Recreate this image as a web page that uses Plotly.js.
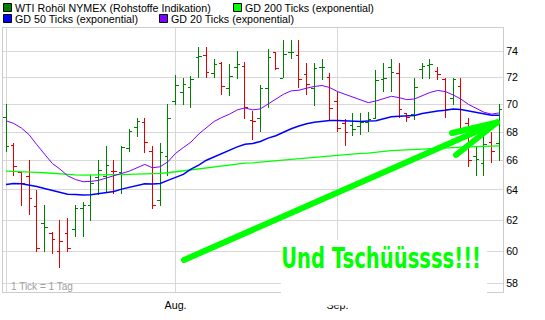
<!DOCTYPE html>
<html>
<head>
<meta charset="utf-8">
<script src="https://cdn.plot.ly/plotly-3.0.1.min.js"></script>
<style>html,body{margin:0;padding:0;background:#fff;}#chart{width:545px;height:320px;}</style>
</head>
<body>
<div id="chart"></div>
<script>
// Trading days (1 Tick = 1 Tag)
const days = [
 '2009-07-01','2009-07-02','2009-07-06','2009-07-07','2009-07-08','2009-07-09','2009-07-10',
 '2009-07-13','2009-07-14','2009-07-15','2009-07-16','2009-07-17',
 '2009-07-20','2009-07-21','2009-07-22','2009-07-23','2009-07-24',
 '2009-07-27','2009-07-28','2009-07-29','2009-07-30','2009-07-31',
 '2009-08-03','2009-08-04','2009-08-05','2009-08-06','2009-08-07',
 '2009-08-10','2009-08-11','2009-08-12','2009-08-13','2009-08-14',
 '2009-08-17','2009-08-18','2009-08-19','2009-08-20','2009-08-21',
 '2009-08-24','2009-08-25','2009-08-26','2009-08-27','2009-08-28','2009-08-31',
 '2009-09-01','2009-09-02','2009-09-03','2009-09-04',
 '2009-09-08','2009-09-09','2009-09-10','2009-09-11',
 '2009-09-14','2009-09-15','2009-09-16','2009-09-17','2009-09-18',
 '2009-09-21','2009-09-22','2009-09-23','2009-09-24','2009-09-25',
 '2009-09-28','2009-09-29','2009-09-30','2009-10-01'
];
const openP = [69.07,67.05,65.18,64.93,62.92,61.78,61.14,60.00,61.14,61.40,62.77,62.95,64.84,64.93,65.27,65.20,
 66.86,68.33,68.71,66.62,63.32,66.31,70.25,70.90,71.25,73.53,73.65,72.28,73.08,71.15,72.75,72.83,
 68.81,69.00,71.15,73.95,71.95,73.95,73.70,72.25,71.20,72.75,72.00,70.20,68.60,68.45,68.40,68.71,
 69.00,71.88,72.75,72.33,69.36,69.24,72.63,72.88,72.45,71.88,70.45,71.33,68.64,66.31,65.80,67.29,67.17];
const highP = [70.00,67.21,65.23,66.02,63.98,62.99,61.25,62.00,62.15,62.99,63.19,65.00,66.02,67.02,66.02,66.98,
 68.24,69.00,69.00,66.98,67.21,70.00,72.20,72.00,72.08,74.38,74.38,73.40,73.20,73.03,74.00,73.15,
 69.52,71.45,74.15,73.95,74.90,74.90,74.90,73.08,73.08,73.45,72.38,70.95,68.95,69.36,69.36,69.43,
 72.58,73.08,73.45,73.13,69.36,72.00,73.08,73.45,72.83,71.95,71.95,71.95,69.00,67.02,67.74,67.98,70.02];
const lowP = [66.62,64.95,62.92,62.33,59.96,59.96,59.84,58.98,59.96,60.92,60.92,61.96,63.65,63.87,63.74,63.70,
 66.62,67.62,66.50,62.70,62.95,64.95,69.95,69.95,69.76,71.95,71.95,71.95,70.70,70.65,71.90,68.95,
 67.45,67.98,69.76,72.58,71.95,73.45,71.20,70.70,69.88,71.83,68.76,68.00,66.98,67.69,67.81,67.98,
 68.95,70.95,70.95,69.00,68.69,68.88,71.88,71.88,71.78,69.00,69.95,68.21,65.57,64.95,64.95,65.86,65.98];
const closeP = [66.98,65.59,64.41,63.43,60.17,61.55,60.75,60.65,60.17,62.77,62.95,64.43,65.34,65.64,65.27,66.90,
 68.05,68.76,67.29,62.99,66.57,69.00,71.38,71.45,71.88,73.63,72.40,73.00,71.30,72.05,73.00,69.79,
 68.76,71.15,73.53,72.70,73.78,73.95,71.83,71.50,72.70,72.75,69.71,68.29,68.00,68.17,68.69,68.88,
 71.75,71.90,72.38,69.64,69.05,71.25,72.83,73.00,72.20,69.64,71.83,68.21,65.98,66.09,67.14,66.62,69.60];
// GD 200 / 50 / 20 Ticks (exponential)
const gd200 = [65.27,65.26,65.24,65.22,65.19,65.16,65.11,65.07,65.03,65.01,65.00,65.00,65.01,65.02,65.03,65.04,
 65.05,65.06,65.07,65.09,65.11,65.16,65.23,65.30,65.36,65.43,65.52,65.59,65.66,65.70,65.77,65.82,
 65.84,65.89,65.93,65.98,66.02,66.10,66.14,66.19,66.24,66.29,66.33,66.38,66.43,66.48,66.50,66.52,
 66.60,66.64,66.69,66.71,66.74,66.76,66.81,66.83,66.86,66.88,66.90,66.93,66.95,66.98,67.00,67.02,67.02];
const gd50 = [64.36,64.43,64.41,64.34,64.23,64.09,63.98,63.87,63.71,63.69,63.65,63.67,63.76,63.82,63.89,64.05,
 64.16,64.32,64.41,64.39,64.43,64.64,64.84,65.05,65.41,65.68,66.02,66.26,66.45,66.69,66.95,67.14,
 67.19,67.33,67.57,67.74,68.00,68.24,68.43,68.60,68.71,68.79,68.83,68.83,68.79,68.76,68.76,68.79,
 68.81,68.95,69.10,69.14,69.17,69.19,69.33,69.45,69.52,69.57,69.67,69.62,69.52,69.43,69.31,69.21,69.21];
const gd20 = [68.81,68.62,68.29,67.81,67.10,66.43,65.80,65.41,64.95,64.70,64.55,64.57,64.64,64.80,64.95,65.14,
 65.27,65.50,65.73,65.50,65.57,65.91,66.50,66.90,67.29,67.86,68.33,68.76,69.05,69.29,69.60,69.74,
 69.60,69.67,70.03,70.40,70.75,71.00,71.05,71.20,71.33,71.40,71.25,70.95,70.75,70.50,70.30,70.13,
 70.25,70.40,70.60,70.50,70.35,70.40,70.63,70.88,71.03,70.95,70.70,70.40,70.00,69.71,69.43,69.29,69.38];
const yTicks = [58,60,62,64,66,68,70,72,74];
const monthTicks = ['2009-07-01','2009-08-03','2009-09-01'];
const monthLabels = ['', 'Aug.', 'Sep.'];
const seriesNames = ['WTI Rohöl NYMEX (Rohstoffe Indikation)','GD 200 Ticks (exponential)','GD 50 Ticks (exponential)','GD 20 Ticks (exponential)'];
const slogan = 'Und Tschüüssss!!!';

const C_UP = '#008000', C_DN = '#e00000', C200 = '#00ff00', C50 = '#0000ff', C20 = '#8000ff';
const FONT = 'Liberation Sans, Arial, sans-serif';

const xIdx = days.map((d, i) => i);
const up = closeP.map((c, i) => i === 0 || c >= closeP[i - 1]);
function pick(arr, flag) { return arr.filter((v, i) => up[i] === flag); }
function ohlcTrace(flag, col) {
  return {
    type: 'ohlc', x: pick(xIdx, flag), open: pick(openP, flag), high: pick(highP, flag),
    low: pick(lowP, flag), close: pick(closeP, flag), tickwidth: 0.4,
    increasing: {line: {color: col, width: 1}}, decreasing: {line: {color: col, width: 1}},
    hoverinfo: 'skip', showlegend: false
  };
}
function maTrace(vals, col, w) {
  return {type: 'scatter', mode: 'lines', x: xIdx, y: vals, line: {color: col, width: w},
          hoverinfo: 'skip', showlegend: false};
}
const data = [
  maTrace(gd200, C200, 1.3),
  maTrace(gd50, C50, 1.5),
  maTrace(gd20, C20, 1),
  ohlcTrace(true, C_UP),
  ohlcTrace(false, C_DN)
];

// pixel -> paper helpers (plot area 3..503 x 28..292)
const PL = 3, PT = 28, PW = 500, PH = 264;
const px = v => (v - PL) / PW;
const py = v => (PT + PH - v) / PH;

const shapes = [];
const annotations = [];
// white box behind slogan
shapes.push({type: 'rect', xref: 'paper', yref: 'paper', x0: px(281), x1: px(487), y0: py(305.5), y1: py(240),
  fillcolor: '#ffffff', line: {width: 0}, layer: 'above'});
// arrow
const arrowSegs = [[184, 260, 497, 122.5], [452, 133, 497, 122.5], [456, 155, 497, 122.5]];
arrowSegs.forEach(s => shapes.push({type: 'line', xref: 'paper', yref: 'paper',
  x0: px(s[0]), y0: py(s[1]), x1: px(s[2]), y1: py(s[3]), line: {color: C200, width: 6}, layer: 'above'}));
// legend
const legendItems = [
  {name: seriesNames[0], col: C_UP, sx: 3, sy: 3},
  {name: seriesNames[1], col: C200, sx: 233, sy: 3},
  {name: seriesNames[2], col: C50, sx: 3, sy: 14},
  {name: seriesNames[3], col: C20, sx: 159, sy: 14}
];
legendItems.forEach(it => {
  shapes.push({type: 'rect', xref: 'paper', yref: 'paper', x0: px(it.sx + 0.5), x1: px(it.sx + 8.5),
    y0: py(it.sy + 8.5), y1: py(it.sy + 0.5), fillcolor: it.col, line: {color: '#000', width: 1}});
  annotations.push({xref: 'paper', yref: 'paper', x: px(it.sx + 10), y: py(it.sy + 4.5),
    xanchor: 'left', yanchor: 'middle', text: it.name, showarrow: false,
    font: {family: FONT, size: 10.7, color: '#000'}});
});
annotations.push({xref: 'paper', yref: 'paper', x: px(9), y: py(286.5), xanchor: 'left', yanchor: 'middle',
  text: '1 Tick = 1 Tag', showarrow: false, font: {family: FONT, size: 10, color: '#a0a0a0'}});
annotations.push({xref: 'paper', yref: 'paper', x: px(381), y: py(258), xanchor: 'center', yanchor: 'middle',
  text: slogan, showarrow: false,
  font: {family: 'DejaVu Sans, sans-serif', size: 20, color: C200, weight: 'bold'}});

const layout = {
  width: 545, height: 320,
  margin: {l: PL, r: 545 - PL - PW, t: PT, b: 320 - PT - PH, pad: 0},
  paper_bgcolor: '#fff', plot_bgcolor: '#fff',
  showlegend: false,
  font: {family: FONT, size: 10.7, color: '#000'},
  xaxis: {
    type: 'linear', range: [-0.39, 64.48],
    tickmode: 'array', tickvals: monthTicks.map(d => days.indexOf(d)), ticktext: monthLabels,
    showgrid: true, gridcolor: '#d8d8d8', gridwidth: 1, zeroline: false,
    showline: true, mirror: true, linecolor: '#cccccc', linewidth: 1,
    ticks: '', ticklabelstandoff: 3, rangeslider: {visible: false}, fixedrange: true,
    tickfont: {family: FONT, size: 10.7, color: '#000'}
  },
  yaxis: {
    type: 'log', range: [Math.log10(57.5), Math.log10(75.84)], side: 'right',
    tickmode: 'array', tickvals: yTicks, ticktext: yTicks.map(String),
    showgrid: true, gridcolor: '#d8d8d8', gridwidth: 1, zeroline: false,
    showline: true, mirror: true, linecolor: '#cccccc', linewidth: 1,
    ticks: '', fixedrange: true,
    tickfont: {family: FONT, size: 10.7, color: '#000'}
  },
  shapes: shapes,
  annotations: annotations
};

Plotly.newPlot('chart', data, layout, {staticPlot: true, displayModeBar: false}).then(gd => {
  // condense + heighten the slogan like the poster-style original
  gd.querySelectorAll('.annotation-text').forEach(t => {
    if (t.textContent !== slogan) return;
    const len = t.getComputedTextLength();
    const cx = parseFloat(t.getAttribute('x')) || 0;
    const b = parseFloat(t.getAttribute('y')) || 0;
    const ctm = t.getCTM();
    const pageBase = ctm ? ctm.d * b + ctm.f : b;
    const dy = 268.3 - pageBase;
    const sx = 200 / len, sy = 1.41;
    t.setAttribute('transform', `translate(${cx},${b + dy}) scale(${sx},${sy}) translate(${-cx},${-b})`);
  });
  gd.querySelectorAll('.shapelayer path').forEach(p => {
    if ((p.style.stroke || '').replace(/\s/g, '') === 'rgb(0,255,0)') p.style.strokeLinecap = 'round';
  });
  gd.querySelectorAll('.trace.ohlc path').forEach(p => { p.style.shapeRendering = 'crispEdges'; });
});
</script>
</body>
</html>
